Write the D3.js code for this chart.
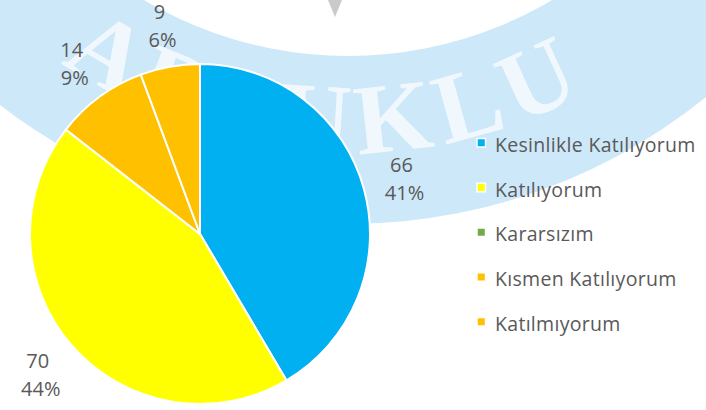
<!DOCTYPE html>
<html>
<head>
<meta charset="utf-8">
<script src="https://cdn.jsdelivr.net/npm/d3@7"></script>
<style>
  body { margin: 0; background: #fff; }
  svg text { font-family: "Open Sans", "Noto Sans", sans-serif; fill: #595959; }
</style>
</head>
<body>
<svg id="chart" width="706" height="410"></svg>
<script>
var categories = ["Kesinlikle Katılıyorum", "Katılıyorum", "Kararsızım", "Kısmen Katılıyorum", "Katılmıyorum"];
var counts = [66, 70, 0, 14, 9];
var percents = ["41%", "44%", "0%", "9%", "6%"];
var colors = ["#00B0F0", "#FFFF00", "#70AD47", "#FFC000", "#FFC000"];

var svg = d3.select("#chart"),
  width = +svg.attr("width"),
  height = +svg.attr("height");

// watermark (university logo ring behind the chart)
var wm = svg.append("g").attr("transform", "translate(348,-344)");
wm.append("path")
  .attr("d", d3.arc().innerRadius(400).outerRadius(568).startAngle(0).endAngle(2 * Math.PI)())
  .attr("fill", "#CDE8F9");

var ringPath = d3.path();
var a0 = 150 * Math.PI / 180, a1 = 30 * Math.PI / 180, rr = 497;
ringPath.moveTo(rr * Math.cos(a0), rr * Math.sin(a0));
ringPath.arc(0, 0, rr, a0, a1, true);
wm.append("path").attr("id", "wmArc").attr("d", ringPath.toString()).attr("fill", "none");
wm.append("text")
  .style("font-family", "'Liberation Serif', serif")
  .style("font-size", "100px")
  .style("font-weight", "bold")
  .style("letter-spacing", "9px")
  .style("fill", "#ffffff")
  .style("opacity", 0.72)
  .append("textPath")
  .attr("href", "#wmArc")
  .attr("startOffset", "47.5%")
  .attr("text-anchor", "middle")
  .text("ARTUKLU");

svg.append("path")
  .attr("d", "M328,0 L342,0 L335,17 Z")
  .attr("fill", "#bdbdbd")
  .attr("opacity", 0.8);

// pie
var cx = 200, cy = 234, radius = 170, labelR = 212;
var pie = d3.pie().sort(null).value(function (d) { return d; });
var arcs = pie(counts);
var arc = d3.arc().innerRadius(0).outerRadius(radius);

var g = svg.append("g").attr("transform", "translate(" + cx + "," + cy + ")");

g.selectAll("path.slice")
  .data(arcs)
  .enter().append("path")
  .attr("class", "slice")
  .attr("d", arc)
  .attr("fill", function (d, i) { return colors[i]; })
  .attr("stroke", "#fff")
  .attr("stroke-width", 2);

var labelArc = d3.arc().innerRadius(labelR).outerRadius(labelR);
var labels = g.selectAll("g.lbl")
  .data(arcs.filter(function (d) { return d.value > 0; }))
  .enter().append("g")
  .attr("class", "lbl")
  .attr("transform", function (d) { return "translate(" + labelArc.centroid(d) + ")"; });

labels.append("text")
  .attr("text-anchor", "middle")
  .attr("x", -3)
  .attr("y", -6)
  .style("font-size", "20px")
  .text(function (d) { return counts[d.index]; });
labels.append("text")
  .attr("text-anchor", "middle")
  .attr("y", 22)
  .style("font-size", "20px")
  .text(function (d) { return percents[d.index]; });

// legend
var legendY = d3.scalePoint().domain(categories).range([145, 324]);
var legend = svg.append("g").selectAll("g")
  .data(categories)
  .enter().append("g")
  .attr("transform", function (d) { return "translate(477," + legendY(d) + ")"; });

legend.append("rect")
  .attr("x", 0).attr("y", -6.5)
  .attr("width", 8.5).attr("height", 8.5)
  .attr("fill", function (d, i) { return colors[i]; })
  .attr("stroke", "#fff")
  .attr("stroke-width", 1.5);

legend.append("text")
  .attr("x", 18)
  .attr("dy", "0.35em")
  .style("font-size", "19.5px")
  .style("letter-spacing", "0.3px")
  .text(function (d) { return d; });
</script>
</body>
</html>
